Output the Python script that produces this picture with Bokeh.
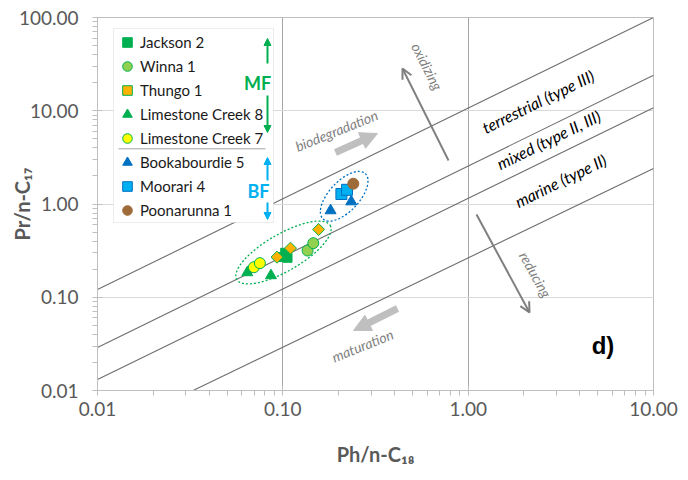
import numpy as np
from bokeh.plotting import figure
from bokeh.models import (Range1d, FixedTicker, Legend, LegendItem, Label, Arrow,
                          NormalHead, OpenHead, BoxAnnotation)
from bokeh.embed import file_html
from bokeh.resources import INLINE

# ---------------- data (Ph/n-C18 , Pr/n-C17) ----------------
series_names = ["Jackson 2", "Winna 1", "Thungo 1", "Limestone Creek 8",
                "Limestone Creek 7", "Bookabourdie 5", "Moorari 4", "Poonarunna 1"]

jackson2_ph = [0.099, 0.103, 0.106]
jackson2_pr = [0.270, 0.300, 0.265]
winna1_ph = [0.136, 0.146]
winna1_pr = [0.317, 0.380]
thungo1_ph = [0.093, 0.110, 0.156]
thungo1_pr = [0.269, 0.336, 0.533]
lc8_ph = [0.0643, 0.0863]
lc8_pr = [0.184, 0.171]
lc7_ph = [0.0698, 0.0752]
lc7_pr = [0.210, 0.232]
bookabourdie5_ph = [0.181, 0.234]
bookabourdie5_pr = [0.85, 1.06]
moorari4_ph = [0.207, 0.222]
moorari4_pr = [1.28, 1.42]
poonarunna1_ph = [0.240]
poonarunna1_pr = [1.65]

# environment boundary lines (endpoints)
line1_ph = [0.01, 10.0]
line1_pr = [0.121, 100.0]
line2_ph = [0.01, 10.0]
line2_pr = [0.029, 24.0]
line3_ph = [0.01, 10.0]
line3_pr = [0.0131, 10.8]
line4_ph = [0.0328, 10.0]
line4_pr = [0.01, 2.40]

x_tick_values = [0.01, 0.1, 1, 10]
x_tick_labels = ["0.01", "0.10", "1.00", "10.00"]
y_tick_values = [0.01, 0.1, 1, 10, 100]
y_tick_labels = ["0.01", "0.10", "1.00", "10.00", "100.00"]
x_title = "Ph/n-C\u2081\u2088"
y_title = "Pr/n-C\u2081\u2087"

# ---------------- figure ----------------
W, H = 688, 480
FL, FR, FT, FB = 97, 35, 17, 90

p = figure(width=W, height=H, x_axis_type="log", y_axis_type="log",
           x_range=Range1d(0.01, 10), y_range=Range1d(0.01, 100),
           output_backend="svg", toolbar_location=None, min_border=0)
p.min_border_left = FL
p.min_border_right = FR
p.min_border_top = FT
p.min_border_bottom = FB
p.outline_line_color = "#BFBFBF"
p.background_fill_color = "white"
p.border_fill_color = "white"

fw = W - FL - FR
fh = H - FT - FB


def X(px):
    return 10 ** (-2 + 3 * (px - FL) / fw)


def Y(py):
    return 10 ** (2 - 4 * (py - FT) / fh)


minor = [k * 10.0 ** e for e in range(-2, 2) for k in range(2, 10)]
xt = FixedTicker(ticks=x_tick_values, minor_ticks=minor)
yt = FixedTicker(ticks=y_tick_values, minor_ticks=minor + [k * 100.0 for k in range(2, 10)])
p.xaxis.ticker = xt
p.yaxis.ticker = yt
p.xgrid.ticker = xt
p.ygrid.ticker = yt
p.xaxis.major_label_overrides = dict(zip(x_tick_values, x_tick_labels))
p.yaxis.major_label_overrides = dict(zip(y_tick_values, y_tick_labels))

for ax in (p.xaxis, p.yaxis):
    ax.axis_line_color = "#BFBFBF"
    ax.major_tick_line_color = "#BFBFBF"
    ax.minor_tick_line_color = "#BFBFBF"
    ax.major_tick_in = 5
    ax.major_tick_out = 5
    ax.minor_tick_in = 0
    ax.minor_tick_out = 5
    ax.major_label_text_font = "Lato"
    ax.major_label_text_font_size = "19px"
    ax.major_label_text_color = "#595959"
    ax.axis_label_text_font = "Lato"
    ax.axis_label_text_font_size = "20px"
    ax.axis_label_text_font_style = "bold"
    ax.axis_label_text_color = "#595959"
p.xaxis.major_label_standoff = 6
p.yaxis.major_label_standoff = 14
p.xaxis.axis_label = x_title
p.yaxis.axis_label = y_title
p.xaxis.axis_label_standoff = 23
p.yaxis.axis_label_standoff = -18

p.xgrid.grid_line_color = "#A6A6A6"
p.ygrid.grid_line_color = "#D9D9D9"

# boundary lines
for lx, ly in [(line1_ph, line1_pr), (line2_ph, line2_pr), (line3_ph, line3_pr), (line4_ph, line4_pr)]:
    p.line(lx, ly, line_color="#6E6E6E", line_width=1.1)

# group ellipses (screen-sized)
p.ellipse(x=[X(283)], y=[Y(252)], width=108, height=37, angle=np.radians(30),
          width_units="screen", height_units="screen", fill_color=None,
          line_color="#00B050", line_dash="2 2", line_width=1.3)
p.ellipse(x=[X(343.7)], y=[Y(195.8)], width=62, height=30, angle=np.radians(47),
          width_units="screen", height_units="screen", fill_color=None,
          line_color="#0070C0", line_dash="2 2", line_width=1.3)

# data series
r_j = p.scatter(jackson2_ph, jackson2_pr, marker="square", size=9,
                fill_color="#00B050", line_color="#00B050")
r_w = p.scatter(winna1_ph, winna1_pr, marker="circle", size=11,
                fill_color="#92D050", line_color="#00B050", line_width=1)
r_t = p.scatter(thungo1_ph, thungo1_pr, marker="square", angle=np.pi / 4, size=8.5,
                fill_color="#FFB300", line_color="#00B050", line_width=1)
r_l8 = p.scatter(lc8_ph, lc8_pr, marker="triangle", size=11,
                 fill_color="#00B050", line_color="#00B050")
r_l7 = p.scatter(lc7_ph, lc7_pr, marker="circle", size=11,
                 fill_color="#FFFF00", line_color="#00B050", line_width=1)
r_b = p.scatter(bookabourdie5_ph, bookabourdie5_pr, marker="triangle", size=11,
                fill_color="#0070C0", line_color="#0070C0")
r_m = p.scatter(moorari4_ph, moorari4_pr, marker="square", size=11,
                fill_color="#00B0F0", line_color="#0070C0", line_width=1)
r_p = p.scatter(poonarunna1_ph, poonarunna1_pr, marker="circle", size=11,
                fill_color="#9E6A38", line_color="#9E6A38")
renderers = [r_j, r_w, r_t, r_l8, r_l7, r_b, r_m, r_p]

# legend box (drawn first, the legend itself is transparent)
p.add_layout(BoxAnnotation(left=X(113), right=X(273), top=Y(28), bottom=Y(222),
                           fill_color="white", fill_alpha=1.0, line_color="#BFBFBF",
                           line_width=1, level="annotation"))

legend = Legend(items=[LegendItem(label=n, renderers=[r]) for n, r in zip(series_names, renderers)],
                location=(17, 168), padding=1, spacing=0, margin=0,
                glyph_width=26, glyph_height=24, label_height=24, label_width=132,
                label_standoff=0, label_text_font="Lato", label_text_font_size="15px",
                label_text_color="#1A1A1A", border_line_color=None,
                background_fill_alpha=0.0)
p.add_layout(legend)

# legend extras
p.add_layout(Arrow(x_start=X(118), y_start=Y(148.3), x_end=X(265), y_end=Y(148.3),
                   start=None, end=None, line_color="#A6A6A6", line_width=1, level="overlay"))


def varrow(px, py0, py1, color):
    p.add_layout(Arrow(x_start=X(px), y_start=Y(py0), x_end=X(px), y_end=Y(py1),
                       line_color=color, line_width=2, level="overlay",
                       end=NormalHead(size=7, fill_color=color, line_color=color)))


varrow(267, 63, 38, "#00B050")
varrow(267, 95, 132, "#00B050")
varrow(267, 180, 157, "#00B0F0")
varrow(267, 202, 219, "#00B0F0")


def lab(px, py, text, size, color="#000000", style="normal", angle=0, align="center",
        baseline="middle", font="Lato"):
    p.add_layout(Label(x=X(px), y=Y(py), text=text, text_font=font, text_font_size=size,
                       text_font_style=style, text_color=color, angle=angle, angle_units="deg",
                       text_align=align, text_baseline=baseline, level="overlay"))


lab(257, 82, "MF", "18px", "#00B050", "bold")
lab(258, 190, "BF", "18px", "#00B0F0", "bold")

# zone labels
lab(537.5, 100.8, "terrestrial (type III)", "16px", style="italic", angle=26.2)
lab(548, 139, "mixed (type II, III)", "16px", style="italic", angle=26.2)
lab(560, 180, "marine (type II)", "16px", style="italic", angle=26.2)

# process arrows
G = "#7F7F7F"
LG = "#BFBFBF"
p.add_layout(Arrow(x_start=X(448), y_start=Y(160), x_end=X(402), y_end=Y(68),
                   line_color=G, line_width=2, end=OpenHead(size=10, line_color=G, line_width=2)))
p.add_layout(Arrow(x_start=X(476), y_start=Y(214), x_end=X(529), y_end=Y(312),
                   line_color=G, line_width=2, end=OpenHead(size=10, line_color=G, line_width=2)))
p.add_layout(Arrow(x_start=X(335), y_start=Y(152), x_end=X(377), y_end=Y(133),
                   line_color=LG, line_width=7, end=NormalHead(size=17, fill_color=LG, line_color=LG)))
p.add_layout(Arrow(x_start=X(397), y_start=Y(308), x_end=X(353), y_end=Y(330),
                   line_color=LG, line_width=7, end=NormalHead(size=17, fill_color=LG, line_color=LG)))

lab(426.7, 66, "oxidizing", "14px", G, "italic", angle=-63)
lab(535, 274, "reducing", "14px", G, "italic", angle=-61)
lab(336, 130, "biodegradation", "14px", G, "italic", angle=22)
lab(362, 345, "maturation", "14px", G, "italic", angle=22)

lab(602.5, 345, "d)", "24px", "#000000", "bold", font="Liberation Sans")

open("out.html", "w").write(file_html(p, INLINE))
